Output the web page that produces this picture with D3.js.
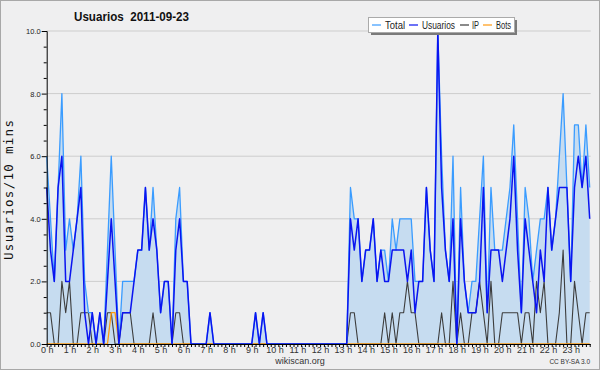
<!DOCTYPE html>
<html>
<head>
<meta charset="utf-8">
<script src="https://cdn.jsdelivr.net/npm/d3@7"></script>
<style>
  body { margin: 0; background: #efeff0; }
  svg { display: block; font-family: "Liberation Sans", Arial, sans-serif; }
</style>
</head>
<body>
<div id="chart"></div>
<script>
// values per 10 minutes, 2011-09-23 (144 slots, 6 per hour)
const usuarios = [
  5,3,2,5,6,2,  2,3,4,5,1,0,  1,0,1,0,2,4,  2,0,1,1,1,2,
  3,3,5,3,4,3,  1,2,2,0,3,4,  2,2,0,0,0,0,  0,1,0,0,0,0,
  0,0,0,0,0,0,  0,1,0,1,0,0,  0,0,0,0,0,0,  0,0,0,0,0,0,
  0,0,0,0,0,0,  0,0,4,3,4,2,  3,3,4,2,3,2,  2,3,3,3,3,2,
  3,1,2,2,5,3,  2,10,5,3,2,4, 0,4,2,1,1,1,  2,5,1,3,3,3,
  2,3,4,6,3,1,  4,3,2,1,3,2,  5,3,4,5,5,5,  2,5,6,5,6,4
];
const ip = [
  1,1,0,0,2,1,  2,0,0,1,1,1,  0,0,0,0,1,1,  0,0,1,1,1,0,
  0,0,0,0,1,0,  0,0,0,0,1,1,  0,0,0,0,0,0,  0,0,0,0,0,0,
  0,0,0,0,0,0,  0,0,0,0,0,0,  0,0,0,0,0,0,  0,0,0,0,0,0,
  0,0,0,0,0,0,  0,0,1,1,0,0,  0,0,0,0,0,1,  0,1,0,1,1,2,
  1,1,0,0,0,0,  0,0,1,0,0,2,  0,1,0,0,1,1,  2,1,0,2,0,0,
  1,1,1,1,1,0,  1,1,0,2,1,2,  0,0,0,1,3,0,  0,2,1,0,1,1
];
const bots = [
  0,0,0,0,0,0,  0,0,0,0,0,0,  0,0,0,0,0,1,  1,0,0,0,0,0,
  0,0,0,0,0,0,  0,0,0,0,0,0,  0,0,0,0,0,0,  0,0,0,0,0,0,
  0,0,0,0,0,0,  0,0,0,0,0,0,  0,0,0,0,0,0,  0,0,0,0,0,0,
  0,0,0,0,0,0,  0,0,0,0,0,0,  0,0,0,0,0,0,  0,0,0,0,0,0,
  0,0,0,0,0,0,  0,0,0,0,0,0,  0,0,0,0,0,0,  0,0,0,0,0,0,
  0,0,0,0,0,0,  0,0,0,0,0,0,  0,0,0,0,0,0,  0,0,0,0,0,0
];
const total = [
  6,4,2,5,8,3,  4,3,4,6,2,1,  1,0,1,0,3,6,  3,0,2,2,2,2,
  3,3,5,3,5,3,  1,2,2,0,4,5,  2,2,0,0,0,0,  0,1,0,0,0,0,
  0,0,0,0,0,0,  0,1,0,1,0,0,  0,0,0,0,0,0,  0,0,0,0,0,0,
  0,0,0,0,0,0,  0,0,5,4,4,2,  3,3,4,2,3,3,  2,4,3,4,4,4,
  4,2,2,2,5,3,  2,10,6,3,2,6, 0,5,2,1,2,2,  4,6,1,5,3,3,
  3,4,5,7,4,1,  5,4,2,3,4,4,  5,3,4,6,8,5,  2,7,7,5,7,5
];
const hourLabels = d3.range(24).map(h => h + " h");
const yTicks = [0, 2, 4, 6, 8, 10];
const seriesNames = ["Total", "Usuarios", "IP", "Bots"];
const seriesColors = ["#3a9cff", "#0a14f0", "#3c3c3c", "#ff9a10"];

const W = 600, H = 370;
const margin = {top: 31, right: 10, bottom: 26, left: 46.7};
const plotW = 543, plotH = 313;

const svg = d3.select("#chart").append("svg")
    .attr("width", W)
    .attr("height", H);

svg.append("rect")
    .attr("x", 0.5).attr("y", 0.5)
    .attr("width", W - 1).attr("height", H - 1)
    .attr("fill", "#efeff0")
    .attr("stroke", "#a8a8a8");

const g = svg.append("g")
    .attr("transform", `translate(${margin.left},${margin.top})`);

const x = d3.scaleLinear().domain([0, 143]).range([0, plotW]);
const y = d3.scaleLinear().domain([0, 10]).range([plotH, 0]);

// grid
g.selectAll(".grid")
    .data(yTicks.filter(d => d > 0))
  .enter().append("line")
    .attr("x1", 0).attr("x2", plotW + 1)
    .attr("y1", d => y(d)).attr("y2", d => y(d))
    .attr("stroke", "#cdcdcd")
    .attr("stroke-width", 1);

// area under total
const area = d3.area()
    .x((d, i) => x(i))
    .y0(y(0))
    .y1(d => y(d));
g.append("path")
    .datum(total)
    .attr("d", area)
    .attr("fill", "#c6dcf0");

const line = d3.line().x((d, i) => x(i)).y(d => y(d));

const drawOrder = [[ip, 2, 1.1], [bots, 3, 1.3], [total, 0, 1.3], [usuarios, 1, 1.5]];
drawOrder.forEach(([vals, ci, w]) => {
  g.append("path")
      .datum(vals)
      .attr("d", line)
      .attr("fill", "none")
      .attr("stroke", seriesColors[ci])
      .attr("stroke-width", w)
      .attr("stroke-linejoin", "round");
});

// y axis
const yAxis = d3.axisLeft(y)
    .tickValues(d3.range(0, 10.01, 0.5))
    .tickSize(3)
    .tickFormat(d => d % 2 === 0 ? d.toFixed(1) : "");
const ya = g.append("g").call(yAxis);
ya.select(".domain").attr("stroke", "#000");
ya.selectAll(".tick line")
    .attr("x2", d => d % 2 === 0 ? -5 : -3)
    .attr("stroke", "#000");
ya.selectAll(".tick text")
    .attr("x", -6)
    .attr("fill", "#222")
    .style("font-size", "7.5px");

// x axis
const xAxis = d3.axisBottom(x)
    .tickValues(d3.range(0, 144))
    .tickSize(3)
    .tickFormat(d => d % 6 === 0 ? hourLabels[d / 6] : "");
const xa = g.append("g")
    .attr("transform", `translate(0,${plotH})`)
    .call(xAxis);
xa.select(".domain").attr("stroke", "#000").attr("d", `M0,0.5H${plotW + 1}`);
xa.selectAll(".tick line").attr("stroke", "#000");
xa.selectAll(".tick text")
    .attr("y", 3)
    .attr("fill", "#333")
    .style("font-size", "9px");

// title
svg.append("text")
    .attr("x", 74).attr("y", 21)
    .attr("font-weight", "bold")
    .style("font-size", "13px")
    .attr("fill", "#111")
    .attr("textLength", 115)
    .attr("lengthAdjust", "spacingAndGlyphs")
    .text("Usuarios  2011-09-23")
    .attr("xml:space", "preserve");

// y label
svg.append("text")
    .attr("transform", "translate(12.5,190) rotate(-90)")
    .attr("text-anchor", "middle")
    .style("font-family", "DejaVu Sans Mono, monospace")
    .style("font-size", "12.5px")
    .attr("fill", "#111")
    .attr("textLength", 140)
    .attr("lengthAdjust", "spacing")
    .text("Usuarios/10 mins");

// legend
const lg = svg.append("g");
lg.append("rect")
    .attr("x", 371).attr("y", 20).attr("width", 146).attr("height", 15)
    .attr("fill", "#7a7a7a");
lg.append("rect")
    .attr("x", 368.5).attr("y", 17.5).attr("width", 146).attr("height", 15)
    .attr("fill", "#fff").attr("stroke", "#aaa");
const legX = [[372, 385, 20], [409, 422, 33], [460, 472, 7], [483, 496, 15]];
seriesNames.forEach((name, i) => {
  lg.append("line")
      .attr("x1", legX[i][0]).attr("x2", legX[i][0] + 9)
      .attr("y1", 25).attr("y2", 25)
      .attr("stroke", seriesColors[i]).attr("stroke-width", 1.2);
  lg.append("text")
      .attr("x", legX[i][1]).attr("y", 29)
      .style("font-size", "10.5px")
      .attr("fill", "#222")
      .attr("textLength", legX[i][2])
      .attr("lengthAdjust", "spacingAndGlyphs")
      .text(name);
});

// footer
svg.append("text")
    .attr("x", 300).attr("y", 364)
    .attr("text-anchor", "middle")
    .style("font-size", "9px")
    .attr("fill", "#333")
    .text("wikiscan.org");
svg.append("text")
    .attr("x", 590).attr("y", 364)
    .attr("text-anchor", "end")
    .style("font-size", "6.5px")
    .attr("fill", "#333")
    .text("CC BY-SA 3.0");
</script>
</body>
</html>
